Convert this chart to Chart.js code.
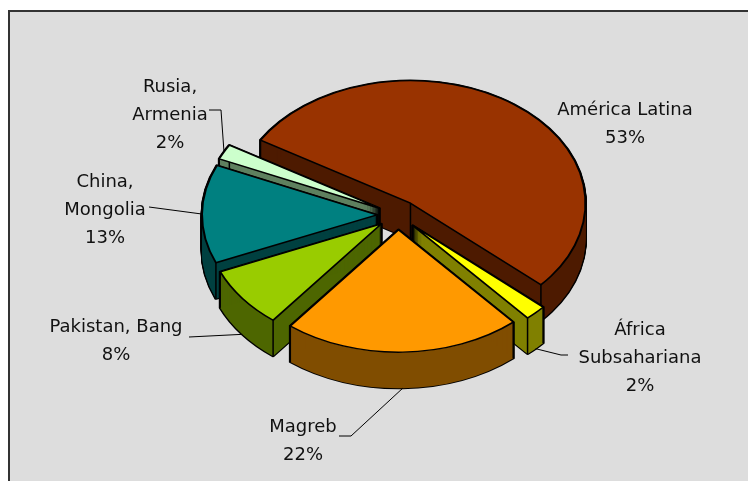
<!DOCTYPE html>
<html><head><meta charset="utf-8">
<script src="https://cdn.jsdelivr.net/npm/chart.js@4"></script>
<style>
html,body{margin:0;padding:0;background:#fff;}
#wrap{position:relative;width:748px;height:481px;overflow:hidden;}
#panel{position:absolute;left:8px;top:10px;width:800px;height:500px;background:#DDDDDD;border-left:2px solid #333;border-top:2px solid #333;}
canvas{position:absolute;left:0;top:0;}
</style></head><body>
<div id="wrap"><div id="panel"></div><canvas id="c" width="748" height="481"></canvas></div>
<script>
// ---- data ----
const categories = [['América Latina'], ['África', 'Subsahariana'], ['Magreb'], ['Pakistan, Bang'], ['China,', 'Mongolia'], ['Rusia,', 'Armenia']];
const shares = [53, 2, 22, 8, 13, 2];

// ---- styles ----
const topColors  = ['#993300', '#FFFF00', '#FF9900', '#99CC00', '#008080', '#CCFFCC'];
const sideColors = ['#4D1A00', '#808000', '#804D00', '#4D6600', '#004040', '#5F805F'];
const K = 0.7;        // vertical squash of the 3D view
const DEPTH = 36;     // side wall height (px)
const EXPLODE = 21;   // explosion distance
const RADIUS = 175;
const LINE = 28;
// label layout: text centre x, first baseline y, leader start points
const labelLayout = [
  {x: 625, y: 115, lead: null},
  {x: 640, y: 335, lead: [[568, 355], [561, 355]]},
  {x: 303, y: 432, lead: [[339, 436], [351, 436]]},
  {x: 116, y: 332, lead: [[189, 337]]},
  {x: 105, y: 187, lead: [[149, 207]]},
  {x: 170, y: 92,  lead: [[209, 110], [221, 110]]}
];

function midOf(a) { return (a.startAngle + a.endAngle) / 2; }

const pie3d = {
  id: 'pie3d',
  beforeDatasetsDraw(chart) {
    const ctx = chart.ctx;
    const arcs = chart.getDatasetMeta(0).data;
    const cx = arcs[0].x, cy = arcs[0].y;
    const order = arcs.map((a, i) => i).sort((i, j) => Math.sin(midOf(arcs[i])) - Math.sin(midOf(arcs[j])));
    ctx.save();
    ctx.translate(cx, cy); ctx.scale(1, K); ctx.translate(-cx, -cy);
    for (const i of order) {
      const a = arcs[i];
      const mid = midOf(a);
      const ex = Math.cos(mid) * EXPLODE, ey = Math.sin(mid) * EXPLODE;
      const orig = a.options;
      // outline of the extruded body
      a.options = Object.assign({}, orig, {backgroundColor: '#000', borderColor: '#000', borderWidth: 3});
      for (let d = 0; d <= DEPTH; d++) { ctx.save(); ctx.translate(ex, ey + d / K); a.draw(ctx); ctx.restore(); }
      // side walls
      a.options = Object.assign({}, orig, {backgroundColor: sideColors[i], borderWidth: 0});
      for (let d = 0; d <= DEPTH; d++) { ctx.save(); ctx.translate(ex, ey + d / K); a.draw(ctx); ctx.restore(); }
      // vertical edges
      const r = a.outerRadius;
      const pts = [[a.x, a.y],
        [a.x + Math.cos(a.startAngle) * r, a.y + Math.sin(a.startAngle) * r],
        [a.x + Math.cos(a.endAngle) * r, a.y + Math.sin(a.endAngle) * r]];
      ctx.save();
      ctx.beginPath();
      for (const p of pts) { ctx.moveTo(p[0] + ex, p[1] + ey); ctx.lineTo(p[0] + ex, p[1] + ey + DEPTH / K); }
      ctx.lineWidth = 1.5; ctx.strokeStyle = '#000'; ctx.stroke();
      ctx.restore();
      // top face
      a.options = orig;
      ctx.save(); ctx.translate(ex, ey); a.draw(ctx); ctx.restore();
    }
    ctx.restore();
    return false;
  },
  afterDraw(chart) {
    const ctx = chart.ctx;
    const arcs = chart.getDatasetMeta(0).data;
    const total = shares.reduce((s, v) => s + v, 0);
    ctx.save();
    ctx.font = '18px "DejaVu Sans"';
    ctx.fillStyle = '#111';
    ctx.textAlign = 'center';
    ctx.textBaseline = 'alphabetic';
    arcs.forEach((a, i) => {
      const lay = labelLayout[i];
      const lines = categories[i].concat([Math.round(shares[i] / total * 100) + '%']);
      lines.forEach((t, j) => ctx.fillText(t, lay.x, lay.y + j * LINE));
      if (lay.lead) {
        const mid = midOf(a);
        const rr = a.outerRadius + EXPLODE;
        const tx = a.x + Math.cos(mid) * rr;
        const ty = a.y + K * Math.sin(mid) * rr + (Math.sin(mid) > 0.2 ? DEPTH : 0);
        ctx.beginPath();
        ctx.moveTo(lay.lead[0][0], lay.lead[0][1]);
        for (let k = 1; k < lay.lead.length; k++) ctx.lineTo(lay.lead[k][0], lay.lead[k][1]);
        ctx.lineTo(tx, ty);
        ctx.lineWidth = 1; ctx.strokeStyle = '#000'; ctx.stroke();
      }
    });
    ctx.restore();
  }
};

new Chart(document.getElementById('c'), {
  type: 'pie',
  data: {
    labels: categories,
    datasets: [{
      data: shares,
      backgroundColor: topColors,
      borderColor: '#000',
      borderWidth: 2,
      borderJoinStyle: 'round',
      offset: 0,
      hoverOffset: 0
    }]
  },
  options: {
    responsive: false,
    devicePixelRatio: 1,
    animation: false,
    rotation: -59,
    radius: RADIUS,
    layout: {padding: {left: 48, right: 0, top: 0, bottom: 51}},
    plugins: {legend: {display: false}, tooltip: {enabled: false}}
  },
  plugins: [pie3d]
});
</script>
</body></html>
